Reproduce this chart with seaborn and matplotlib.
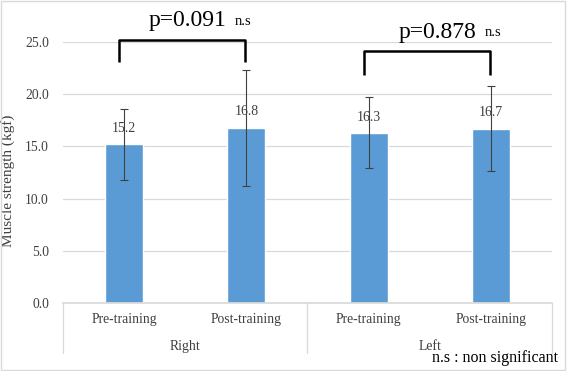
import matplotlib
matplotlib.use('Agg')
import matplotlib.pyplot as plt
import seaborn as sns
import pandas as pd
import numpy as np
from matplotlib.patches import Rectangle

# data
sides = ['Right', 'Right', 'Left', 'Left']
phases = ['Pre-training', 'Post-training', 'Pre-training', 'Post-training']
means = [15.2, 16.8, 16.3, 16.7]
sds = [3.4, 5.55, 3.4, 4.1]
p_values = ['p=0.091', 'p=0.878']
brackets = [(0, 1), (2, 3)]
bracket_tops = [25.2, 24.1]
bracket_bottoms = [23.1, 21.8]
p_text_x = [0.52, 2.56]
ns_text_x = [0.97, 3.02]

sns.set_theme(style='white')
plt.rcParams['font.family'] = ['Liberation Serif', 'DejaVu Serif']

df = pd.DataFrame({
    'key': [f'{s} {p}' for s, p in zip(sides, phases)],
    'side': sides,
    'phase': phases,
    'mean': means,
    'sd': sds,
})

fig = plt.figure(figsize=(5.67, 3.71), dpi=100)
ax = fig.add_axes([0.111, 0.1833, 0.8625, 0.7035])

sns.barplot(x='key', y='mean', data=df, color='#5B9BD5', saturation=1,
            width=0.31, errorbar=None, ax=ax, zorder=2)
xs = np.arange(len(df))
ax.errorbar(xs, df['mean'], yerr=df['sd'], fmt='none', ecolor='#404040',
            elinewidth=0.8, capsize=3, capthick=0.8, zorder=3)

# value labels
for x, m in zip(xs, df['mean']):
    ax.text(x, m + 1.5, f'{m:.1f}', ha='center', va='center', fontsize=10,
            color='#404040', zorder=4)

ax.set_ylim(0, 25)
ax.set_xlim(-0.5, len(df) - 0.5)
ax.set_yticks(np.arange(0, 25.1, 5))
ax.set_yticklabels([f'{v:.1f}' for v in np.arange(0, 25.1, 5)], fontsize=9.8,
                   color='#404040')
ax.yaxis.grid(True, color='#D9D9D9', linewidth=0.9, zorder=0)
ax.set_axisbelow(True)
for s in ['top', 'right', 'left']:
    ax.spines[s].set_visible(False)
ax.spines['bottom'].set_color('#D9D9D9')
ax.tick_params(axis='y', length=0, pad=10)
ax.set_xticks(xs)
ax.set_xticklabels(df['phase'], fontsize=9.8, color='#404040')
ax.tick_params(axis='x', length=0, pad=7)
ax.set_xlabel('')
ax.set_ylabel('Muscle strength (kgf)', fontsize=11, color='#404040')
ax.yaxis.set_label_coords(-0.098, 0.468)

# group labels and separators under the axis
trans = ax.get_xaxis_transform()
groups = df.groupby('side', sort=False)['key'].count()
start = 0
for side, n in groups.items():
    ax.text(start + (n - 1) / 2, -0.165, side, transform=trans, ha='center',
            va='center', fontsize=9.8, color='#404040')
    start += n
for b in [-0.5, 1.5, 3.5]:
    ax.plot([b, b], [0, -0.19], transform=trans, color='#D9D9D9', lw=0.9,
            clip_on=False)

# significance brackets
for (i, j), top, bot, p, px, nx in zip(brackets, bracket_tops, bracket_bottoms,
                                       p_values, p_text_x, ns_text_x):
    x0, x1 = i - 0.04, j - 0.01
    ax.plot([x0, x0, x1, x1], [bot, top, top, bot], color='black', lw=1.8,
            clip_on=False, solid_capstyle='butt', zorder=5)
    ax.text(px, top + 1.3, p, ha='center', va='baseline',
            fontsize=17, color='black', clip_on=False)
    ax.text(nx, top + 1.45, 'n.s', ha='center', va='baseline',
            fontsize=10.5, color='black', clip_on=False)

fig.text(0.984, 0.025, 'n.s : non significant', ha='right', va='baseline',
         fontsize=11.5, color='black')

fig.patches.append(Rectangle((0.002, 0.003), 0.995, 0.993, transform=fig.transFigure,
                             fill=False, edgecolor='#D9D9D9', lw=1))

fig.savefig('out.png', dpi=100)
